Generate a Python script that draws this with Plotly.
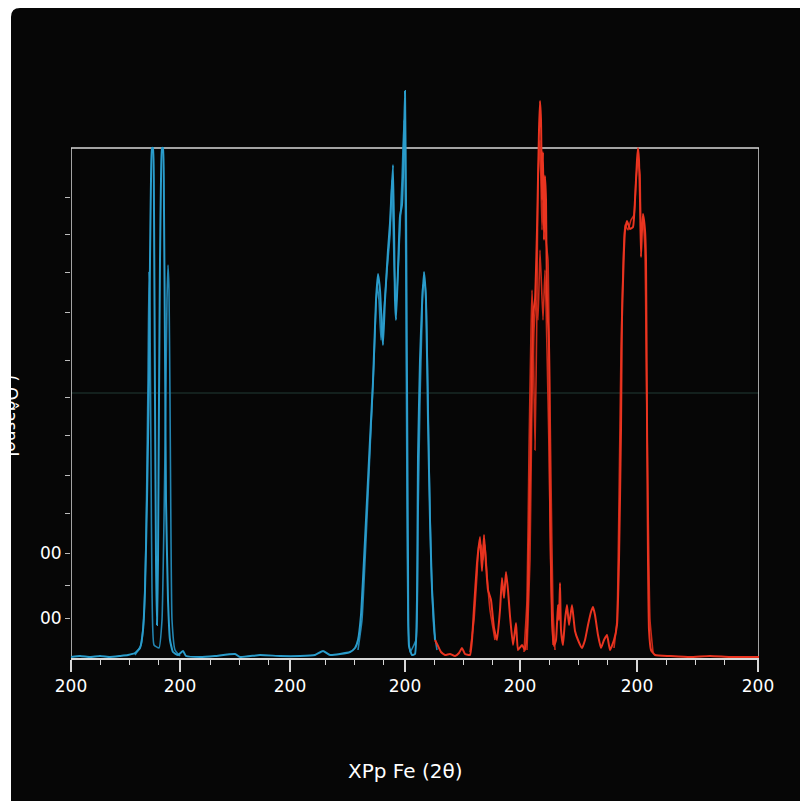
import plotly.graph_objects as go

# ---------------- data ----------------
# blue spectrum (main)
blue_x = [0, 9, 19, 29, 39, 49, 57, 64, 69, 72, 74, 76, 78, 79, 80, 81, 82, 83, 84, 85, 86, 87, 88, 89, 90, 91, 92, 93, 94, 95, 97, 99, 102, 107, 112, 115, 129, 144, 164, 169, 189, 209, 229, 244, 252, 259, 269, 279, 284, 287, 290, 293, 296, 299, 302, 305, 307, 309, 311, 312, 314, 317, 319, 322, 324, 325, 327, 329, 331, 333, 334, 335, 336, 337, 338, 341, 344, 346, 347, 349, 351, 353, 355, 357, 359, 361, 364]
blue_y = [1, 2, 1, 2, 1, 2, 3, 5, 10, 28, 68, 158, 278, 398, 478, 510, 510, 448, 258, 98, 33, 98, 258, 398, 478, 510, 510, 448, 308, 158, 58, 18, 6, 3, 7, 2, 1, 2, 4, 1, 3, 2, 2, 3, 7, 3, 4, 6, 10, 18, 43, 98, 158, 218, 276, 358, 384, 368, 328, 313, 358, 408, 435, 493, 358, 338, 388, 442, 453, 518, 567, 458, 276, 98, 12, 3, 4, 58, 201, 298, 352, 386, 358, 238, 138, 69, 18]

# blue spectrum (overlaid repeat scan)
blue2_x = [64, 70, 73, 75, 77, 78, 79, 80, 81, 83, 88, 91, 93, 95, 96, 97, 98, 99, 100, 101, 104, 109, None,
           287, 291, 295, 299, 303, 306, 308, 310, 313, 316, 319, 321, 323, 325, 328, 331, 333, 334, 335, 336, 337, 339,
           345, 347, 349, 351, 352, 354, 356, 358, 360, 363, 366]
blue2_y = [3, 13, 43, 118, 278, 386, 338, 198, 68, 13, 10, 38, 138, 278, 358, 393, 368, 258, 118, 38, 8, 2, None,
           8, 38, 118, 208, 298, 373, 358, 318, 348, 388, 423, 478, 398, 348, 408, 478, 538, 508, 358, 158, 38, 6,
           18, 138, 258, 338, 373, 373, 318, 198, 98, 28, 8]

# red spectrum (main)
red_x = [364, 367, 370, 374, 379, 384, 388, 391, 394, 399, 401, 403, 406, 409, 411, 413, 415, 417, 420, 423, 426, 429, 431, 433, 435, 437, 439, 442, 445, 447, 451, 454, 456, 458, 460, 462, 464, 466, 468, 469, 470, 471, 472, 473, 474, 475, 476, 478, 479, 481, 483, 485, 487, 488, 489, 490, 492, 494, 496, 498, 501, 504, 507, 511, 514, 517, 520, 522, 524, 527, 530, 533, 536, 539, 543, 546, 548, 550, 551, 553, 554, 556, 559, 562, 564, 566, 567, 568, 569, 570, 571, 572, 574, 575, 576, 577, 578, 580, 584, 599, 619, 639, 659, 688]
red_y = [18, 12, 6, 3, 4, 2, 5, 10, 4, 3, 18, 50, 95, 121, 87, 123, 93, 68, 58, 30, 18, 48, 80, 60, 86, 68, 42, 13, 35, 8, 13, 8, 28, 118, 238, 344, 358, 428, 528, 557, 538, 458, 506, 418, 482, 458, 358, 314, 158, 38, 12, 18, 53, 38, 75, 28, 13, 38, 53, 33, 53, 27, 18, 10, 18, 33, 46, 51, 43, 23, 10, 18, 23, 8, 18, 33, 98, 228, 340, 408, 427, 437, 429, 431, 458, 498, 510, 498, 458, 401, 428, 444, 428, 398, 238, 98, 28, 8, 3, 2, 1, 2, 1, 1]

# red spectrum (overlaid repeat scans)
red2_x = [399, 403, 406, 408, 410, 412, 414, 416, 419, 424, None,
          453, 456, 458, 460, 461, 462, 464, 466, 467, 469, 471, 473, 475, 477, 478, 480, 482, 484, None,
          543, 546, 548, 550, 552, 554, 557, 560, 563, 565, 567, 569, 570, 572, 574, 575, 577, 579, 582]
red2_y = [6, 38, 83, 113, 113, 98, 113, 83, 48, 18, None,
          6, 58, 208, 328, 368, 338, 208, 358, 478, 518, 428, 483, 418, 398, 328, 178, 48, 8, None,
          10, 38, 158, 308, 388, 433, 428, 438, 443, 478, 498, 483, 428, 438, 408, 318, 158, 38, 6]
red3_x = [456, 459, 461, 463, 465, 467, 469, 472, 474, 476, 478, 480, 482]
red3_y = [8, 98, 258, 328, 358, 338, 408, 338, 388, 308, 208, 78, 13]

# axis ticks
x_major = [0, 109, 219, 334, 449, 566, 687]
x_major_text = ["200", "200", "200", "200", "200", "200", "200"]
x_minor = [29, 58, 87, 139, 168, 197, 254, 283, 312, 363, 392, 421, 478, 507, 536, 595, 624, 653]
y_ticks = [40, 73, 105, 145, 183, 223, 261, 298, 346, 386, 424, 461]
y_tick_text = ["00", "", "00", "", "", "", "", "", "", "", "", ""]
box_top = 510
grid_y = 265

BLUE = "#2a9ccb"
BLUE2 = "#2384b0"
RED = "#ea3420"
RED2 = "#c92a18"

LS = dict(shape="spline", smoothing=0.4)

fig = go.Figure()
fig.add_trace(go.Scatter(x=blue2_x, y=blue2_y, mode="lines", line=dict(color=BLUE2, width=1.6, **LS),
                         connectgaps=False, hoverinfo="skip"))
fig.add_trace(go.Scatter(x=blue_x, y=blue_y, mode="lines", line=dict(color=BLUE, width=2, **LS),
                         hoverinfo="skip"))
fig.add_trace(go.Scatter(x=red2_x, y=red2_y, mode="lines", line=dict(color=RED2, width=1.6, **LS),
                         connectgaps=False, hoverinfo="skip"))
fig.add_trace(go.Scatter(x=red3_x, y=red3_y, mode="lines", line=dict(color=RED2, width=1.6, **LS),
                         hoverinfo="skip"))
fig.add_trace(go.Scatter(x=red_x, y=red_y, mode="lines", line=dict(color=RED, width=2, **LS),
                         hoverinfo="skip"))

W, H = 800, 801
x_dom = [71 / W, 759 / W]
y_dom = [1 - 658 / H, 1 - 85 / H]

# black rounded panel
px0, py0 = 11 / W, 1 - 8 / H
r_x, r_y = 9 / W, 9 / H
panel_path = (f"M {px0},0 L {px0},{py0 - r_y} Q {px0},{py0} {px0 + r_x},{py0} "
              f"L 1,{py0} L 1,0 Z")

shapes = [
    dict(type="path", xref="paper", yref="paper", path=panel_path,
         fillcolor="#060606", line=dict(width=0), layer="below"),
    # mid gridline
    dict(type="line", xref="x", yref="y", x0=0, x1=688, y0=grid_y, y1=grid_y,
         line=dict(color="#213a34", width=1.2), layer="below"),
    # frame: left, top, right
    dict(type="line", xref="x", yref="y", x0=0, x1=0, y0=0, y1=box_top,
         line=dict(color="#d8d8d8", width=1.5), layer="below"),
    dict(type="line", xref="x", yref="y", x0=0, x1=688, y0=box_top, y1=box_top,
         line=dict(color="#d8d8d8", width=1.5), layer="below"),
    dict(type="line", xref="x", yref="y", x0=688, x1=688, y0=0, y1=box_top,
         line=dict(color="#d8d8d8", width=1.5), layer="below"),
]

annotations = [
    dict(text="XPp Fe (2θ)", xref="paper", yref="paper", x=405 / W, y=1 - 771 / H,
         showarrow=False, font=dict(family="DejaVu Sans", size=20, color="white"),
         xanchor="center", yanchor="middle"),
    dict(text="( Oĝasnel", xref="paper", yref="paper", x=11 / W, y=1 - 415 / H,
         showarrow=False, textangle=90, font=dict(family="DejaVu Sans", size=17, color="white"),
         xanchor="center", yanchor="middle"),
]

fig.update_layout(
    width=W, height=H,
    margin=dict(l=0, r=0, t=0, b=0, pad=0, autoexpand=False),
    paper_bgcolor="white",
    plot_bgcolor="rgba(0,0,0,0)",
    showlegend=False,
    shapes=shapes,
    annotations=annotations,
    xaxis=dict(domain=x_dom, range=[0, 688], showgrid=False, zeroline=False,
               showline=True, linecolor="#d8d8d8", linewidth=1.5, automargin=False,
               ticks="outside", tickvals=x_major, ticktext=x_major_text,
               ticklen=12, tickwidth=1.5, tickcolor="#d8d8d8",
               tickfont=dict(family="DejaVu Sans", size=17, color="white"),
               minor=dict(tickvals=x_minor, ticks="outside", ticklen=5, tickwidth=1.2,
                          tickcolor="#d8d8d8", showgrid=False)),
    yaxis=dict(domain=y_dom, range=[0, 573], showgrid=False, zeroline=False, automargin=False,
               showline=False, ticks="outside", tickvals=y_ticks, ticktext=y_tick_text,
               ticklen=5, tickwidth=1.2, tickcolor="#bbbbbb",
               tickfont=dict(family="DejaVu Sans", size=17, color="white")),
)

fig.write_html("out.html", config={"displayModeBar": False},
               post_script="document.body.style.margin='0';document.body.style.overflow='hidden';")
